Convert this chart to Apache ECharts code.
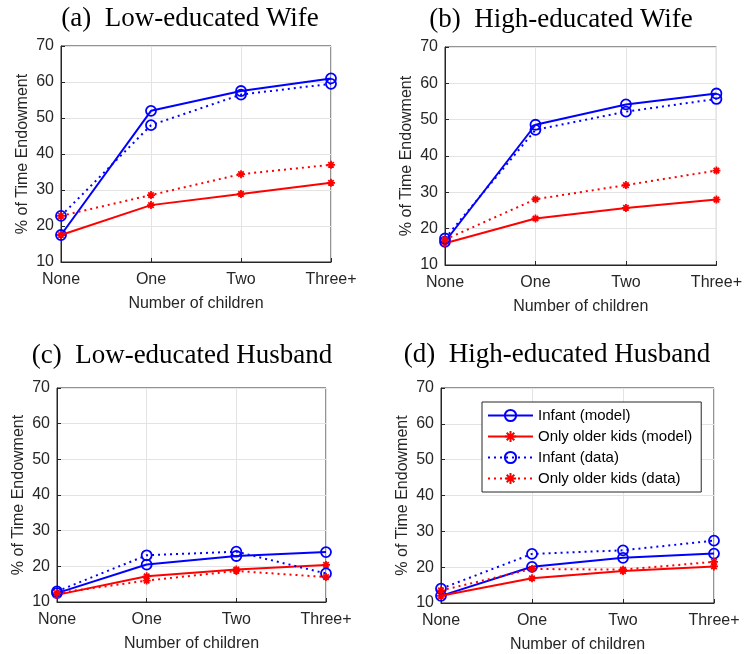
<!DOCTYPE html>
<html>
<head>
<meta charset="utf-8">
<script src="https://cdn.jsdelivr.net/npm/echarts@6/dist/echarts.min.js"></script>
<style>
html,body{margin:0;padding:0;background:#fff;}
#chart{width:745px;height:654px;}
</style>
</head>
<body>
<div id="chart"></div>
<script>
const categories = ['None', 'One', 'Two', 'Three+'];
const seriesNames = ['Infant (model)', 'Only older kids (model)', 'Infant (data)', 'Only older kids (data)'];
const panelTitles = ['(a)  Low-educated Wife', '(b)  High-educated Wife', '(c)  Low-educated Husband', '(d)  High-educated Husband'];
const yAxisName = '% of Time Endowment';
const xAxisName = 'Number of children';

// (a) Low-educated Wife
const aInfantModel = [17.5, 52, 57.5, 61];
const aOlderModel  = [17.5, 25.8, 28.9, 32];
const aInfantData  = [22.8, 48, 56.5, 59.5];
const aOlderData   = [22.8, 28.6, 34.4, 37];
// (b) High-educated Wife
const bInfantModel = [16.4, 48.6, 54.2, 57.2];
const bOlderModel  = [16, 22.8, 25.7, 28];
const bInfantData  = [17.3, 47.2, 52.2, 55.7];
const bOlderData   = [17, 28.1, 32, 36];
// (c) Low-educated Husband
const cInfantModel = [12.5, 20.5, 22.9, 24];
const cOlderModel  = [12, 17.2, 19.1, 20.4];
const cInfantData  = [13, 23.1, 24.1, 18];
const cOlderData   = [12.5, 16, 18.7, 17];
// (d) High-educated Husband
const dInfantModel = [12, 20.1, 22.6, 23.8];
const dOlderModel  = [12, 16.9, 18.9, 20.2];
const dInfantData  = [14, 23.7, 24.7, 27.4];
const dOlderData   = [13.5, 19.5, 19.3, 21.5];

const panels = [
  [aInfantModel, aOlderModel, aInfantData, aOlderData],
  [bInfantModel, bOlderModel, bInfantData, bOlderData],
  [cInfantModel, cOlderModel, cInfantData, cOlderData],
  [dInfantModel, dOlderModel, dInfantData, dOlderData]
];

const gridBoxes = [
  {left: 61, top: 46, width: 270, height: 216},
  {left: 445, top: 47, width: 273, height: 218},
  {left: 57, top: 388, width: 269, height: 214},
  {left: 441, top: 388, width: 273, height: 216}
];
const titlePos = [[190, 19], [561, 20], [182, 356], [557, 355]];

const TXT = '#262626';
const GRIDC = '#e3e3e3';
const BLUE = '#0000ff';
const RED = '#ff0000';
const ASTER = 'path://M5,0L5,10M0,5L10,5M1.6,1.6L8.4,8.4M1.6,8.4L8.4,1.6';

const styles = [
  {color: BLUE, dash: 'solid', symbol: 'circle', size: 10, aster: false},
  {color: RED, dash: 'solid', symbol: ASTER, size: 8, aster: true},
  {color: BLUE, dash: [2, 4], symbol: 'circle', size: 10, aster: false},
  {color: RED, dash: [2, 4], symbol: ASTER, size: 8, aster: true}
];

const grids = [], xAxes = [], yAxes = [], series = [], titles = [];
gridBoxes.forEach((g, i) => {
  grids.push(Object.assign({show: true, borderColor: TXT, borderWidth: 1, backgroundColor: 'transparent'}, g));
  xAxes.push({
    type: 'category', gridIndex: i, data: categories, boundaryGap: false,
    name: xAxisName, nameLocation: 'middle', nameGap: 34,
    nameTextStyle: {fontFamily: 'Liberation Sans', fontSize: 16, color: TXT},
    axisLine: {lineStyle: {color: TXT, width: 1}},
    axisTick: {inside: true, length: 4, lineStyle: {color: TXT}},
    axisLabel: {fontFamily: 'Liberation Sans', fontSize: 16, color: TXT, margin: 10},
    splitLine: {show: true, lineStyle: {color: GRIDC, width: 1}}
  });
  yAxes.push({
    type: 'value', gridIndex: i, min: 10, max: 70, interval: 10,
    name: yAxisName, nameLocation: 'middle', nameGap: 30,
    nameTextStyle: {fontFamily: 'Liberation Sans', fontSize: 16, color: TXT},
    axisLine: {show: true, lineStyle: {color: TXT, width: 1}},
    axisTick: {show: true, inside: true, length: 4, lineStyle: {color: TXT}},
    axisLabel: {fontFamily: 'Liberation Sans', fontSize: 16, color: TXT, margin: 7},
    splitLine: {show: true, lineStyle: {color: GRIDC, width: 1}}
  });
  titles.push({
    text: panelTitles[i], left: titlePos[i][0], top: titlePos[i][1],
    textAlign: 'center', textVerticalAlign: 'middle', padding: 0,
    textStyle: {fontFamily: 'Liberation Serif', fontSize: 27, fontWeight: 'normal', color: '#000'}
  });
  panels[i].forEach((vals, k) => {
    const st = styles[k];
    series.push({
      name: seriesNames[k], type: 'line', xAxisIndex: i, yAxisIndex: i,
      data: vals,
      symbol: st.symbol, symbolSize: st.size, showSymbol: true,
      lineStyle: {color: st.color, width: 2, type: st.dash},
      itemStyle: st.aster
        ? {color: st.color, borderColor: st.color, borderWidth: 1.8}
        : {color: 'rgba(0,0,0,0)', borderColor: st.color, borderWidth: 1.8},
      emphasis: {disabled: true},
      z: 3 + k
    });
  });
});

const chart = echarts.init(document.getElementById('chart'), null, {renderer: 'canvas'});
chart.setOption({
  animation: false,
  backgroundColor: '#fff',
  title: titles,
  grid: grids,
  xAxis: xAxes,
  yAxis: yAxes,
  legend: {
    data: seriesNames, orient: 'vertical', left: 482, top: 402,
    itemWidth: 45, itemHeight: 14, itemGap: 6,
    padding: [6, 9, 6, 5],
    backgroundColor: '#fff', borderColor: TXT, borderWidth: 1,
    selectedMode: false,
    textStyle: {fontFamily: 'Liberation Sans', fontSize: 15, color: '#000'}
  },
  series: series
});
</script>
</body>
</html>
